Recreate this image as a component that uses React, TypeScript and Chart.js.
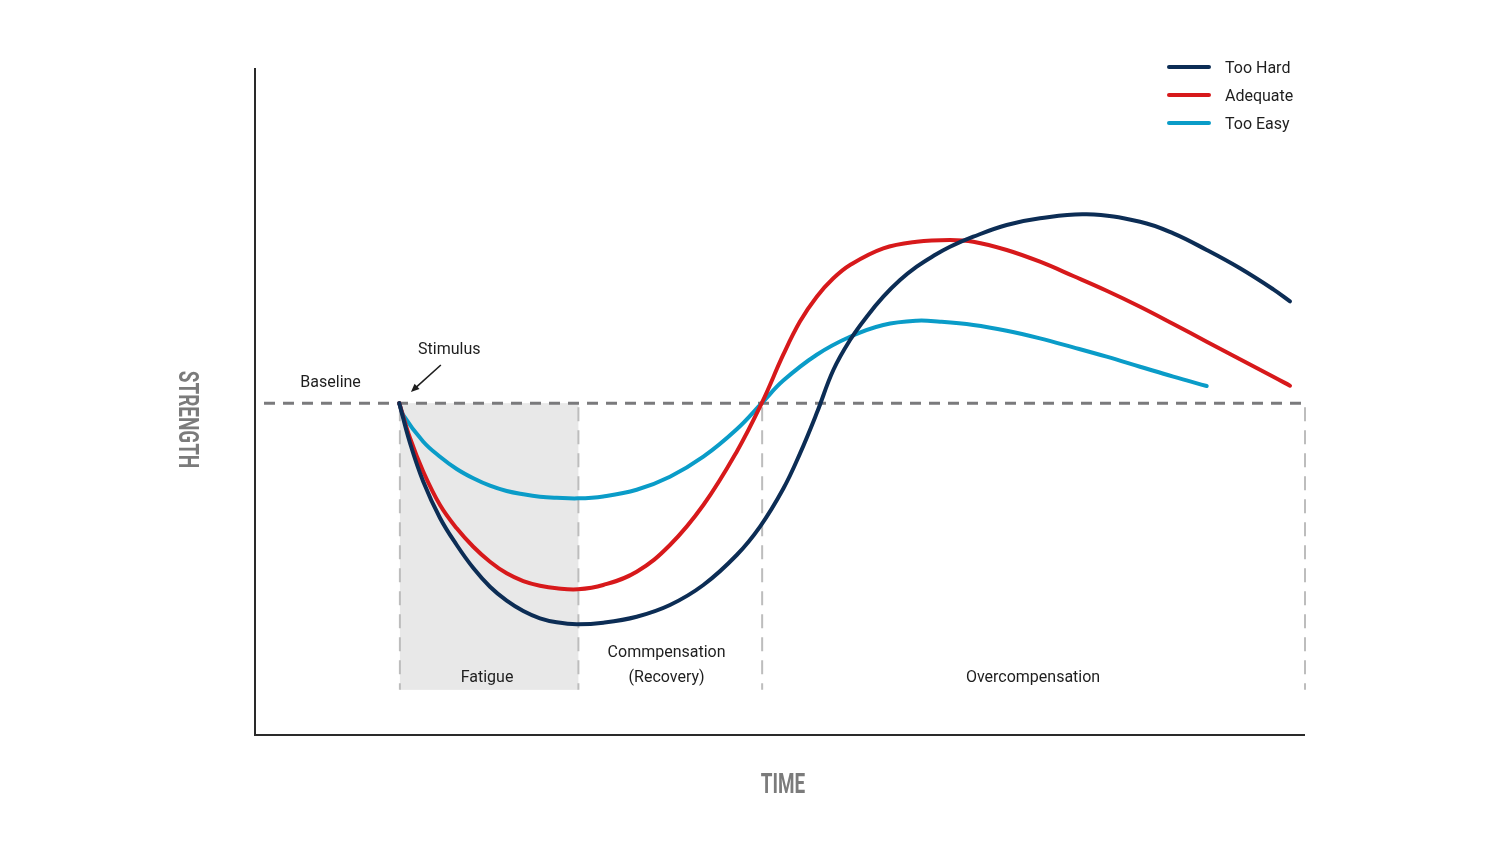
import { useEffect, useRef } from "react";
import { Chart, registerables } from "chart.js";

Chart.register(...registerables);

// ---- data (time 0..100, strength 0..100.5; baseline = 50) ----
const BASELINE = 50;
const PHASES = [13.8, 30.8, 48.3, 100]; // stimulus, end fatigue, end compensation, end
const ZONE_BOTTOM = 6.8;

const hardTime = [13.74, 14.76, 16.03, 17.62, 19.21, 20.79, 22.38, 23.97, 25.55, 27.14, 28.73, 30.64, 33.17, 36.35, 39.52, 42.7, 45.88, 48.1, 50.31, 51.9, 53.5, 55.08, 56.67, 58.26, 59.84, 61.43, 63.02, 64.6, 66.19, 68.41, 71.59, 74.76, 79.2, 84.29, 87.46, 90.64, 93.81, 96.98, 98.57];
const hardStrength = [50.0, 44.0, 38.16, 32.7, 28.63, 25.16, 22.34, 20.24, 18.68, 17.58, 16.98, 16.68, 16.92, 17.82, 19.59, 22.6, 27.12, 31.4, 37.1, 42.4, 48.5, 54.99, 59.51, 63.03, 66.04, 68.55, 70.56, 72.17, 73.57, 75.08, 76.84, 77.85, 78.45, 77.34, 75.59, 73.08, 70.32, 67.15, 65.35];

const adequateTime = [13.74, 14.76, 16.03, 17.62, 19.21, 20.79, 22.38, 23.97, 25.55, 27.14, 28.73, 30.76, 33.17, 36.35, 39.52, 42.7, 45.88, 48.26, 50.31, 51.9, 53.5, 55.08, 56.67, 59.84, 63.02, 66.19, 68.41, 71.59, 74.76, 77.93, 81.11, 84.29, 87.46, 90.64, 93.81, 96.98, 98.57];
const adequateStrength = [50.0, 44.75, 39.67, 34.65, 31.14, 28.37, 26.11, 24.36, 23.2, 22.5, 22.1, 21.95, 22.6, 24.6, 28.63, 34.65, 42.69, 50.0, 57.3, 62.3, 66.04, 68.81, 70.82, 73.33, 74.33, 74.58, 74.33, 73.08, 71.31, 69.16, 66.94, 64.53, 61.93, 59.26, 56.61, 53.99, 52.63];

const easyTime = [13.74, 14.12, 16.03, 17.62, 19.21, 20.79, 22.38, 23.97, 25.55, 27.14, 28.73, 30.76, 33.17, 36.35, 39.52, 42.7, 45.88, 48.26, 50.31, 53.5, 56.67, 59.84, 63.02, 65.24, 68.41, 71.59, 74.76, 77.93, 81.11, 84.29, 87.46, 90.64];
const easyStrength = [50.0, 48.21, 44.19, 41.93, 40.08, 38.68, 37.56, 36.76, 36.27, 35.91, 35.75, 35.66, 35.95, 36.95, 38.92, 41.94, 46.07, 50.0, 53.4, 57.3, 60.01, 61.78, 62.42, 62.27, 61.78, 60.92, 59.77, 58.41, 57.0, 55.49, 53.99, 52.58];

const seriesNames = ["Too Hard", "Adequate", "Too Easy"];
const seriesColors = ["#0c2d55", "#d7191b", "#0a9cc8"];

const zoneLabels = [
  { text: "Baseline", x: 7.2, y: 53.3 },
  { text: "Stimulus", x: 18.5, y: 58.3 },
  { text: "Fatigue", x: 22.1, y: 8.9 },
  { text: "Commpensation", x: 39.2, y: 12.65 },
  { text: "(Recovery)", x: 39.2, y: 8.9 },
  { text: "Overcompensation", x: 74.1, y: 8.9 },
];
const arrowFrom = { x: 17.7, y: 55.75 };
const arrowTo = { x: 14.85, y: 51.7 };

const xTitle = "TIME";
const yTitle = "STRENGTH";

const zip = (xs: number[], ys: number[]) => xs.map((x, i) => ({ x, y: ys[i] }));

const decorPlugin = {
  id: "decor",
  beforeDatasetsDraw(chart: any) {
    const { ctx, chartArea, scales } = chart;
    const xs = scales.x;
    const ys = scales.y;
    const yb = ys.getPixelForValue(BASELINE);
    const yz = ys.getPixelForValue(ZONE_BOTTOM);
    const px = PHASES.map((p) => xs.getPixelForValue(p));
    ctx.save();
    ctx.fillStyle = "#e8e8e8";
    ctx.fillRect(px[0], yb, px[1] - px[0], yz - yb);
    ctx.strokeStyle = "#bdbdbd";
    ctx.lineWidth = 2;
    ctx.setLineDash([14, 9]);
    px.forEach((p) => {
      ctx.beginPath();
      ctx.moveTo(p, yb + 4);
      ctx.lineTo(p, yz);
      ctx.stroke();
    });
    ctx.strokeStyle = "#7a7a7c";
    ctx.lineWidth = 3;
    ctx.setLineDash([11, 8]);
    ctx.beginPath();
    ctx.moveTo(chartArea.left + 9, yb);
    ctx.lineTo(chartArea.right, yb);
    ctx.stroke();
    ctx.setLineDash([]);
    ctx.strokeStyle = "#2a2a2a";
    ctx.lineWidth = 2;
    ctx.beginPath();
    ctx.moveTo(chartArea.left, chartArea.top);
    ctx.lineTo(chartArea.left, chartArea.bottom);
    ctx.lineTo(chartArea.right, chartArea.bottom);
    ctx.stroke();
    ctx.restore();
  },
  afterDatasetsDraw(chart: any) {
    const { ctx, chartArea, scales } = chart;
    const xs = scales.x;
    const ys = scales.y;
    const textDy = 2;
    ctx.save();
    ctx.fillStyle = "#1e1e1e";
    ctx.font = "16px Roboto";
    ctx.textAlign = "center";
    ctx.textBaseline = "middle";
    zoneLabels.forEach((l) => {
      ctx.fillText(l.text, xs.getPixelForValue(l.x), ys.getPixelForValue(l.y) + textDy);
    });
    const ax0 = xs.getPixelForValue(arrowFrom.x);
    const ay0 = ys.getPixelForValue(arrowFrom.y);
    const ax1 = xs.getPixelForValue(arrowTo.x);
    const ay1 = ys.getPixelForValue(arrowTo.y);
    const ang = Math.atan2(ay1 - ay0, ax1 - ax0);
    ctx.strokeStyle = "#1e1e1e";
    ctx.lineWidth = 1.6;
    ctx.beginPath();
    ctx.moveTo(ax0, ay0);
    ctx.lineTo(ax1 - 5 * Math.cos(ang), ay1 - 5 * Math.sin(ang));
    ctx.stroke();
    ctx.beginPath();
    ctx.moveTo(ax1, ay1);
    ctx.lineTo(ax1 - 9 * Math.cos(ang - 0.42), ay1 - 9 * Math.sin(ang - 0.42));
    ctx.lineTo(ax1 - 9 * Math.cos(ang + 0.42), ay1 - 9 * Math.sin(ang + 0.42));
    ctx.closePath();
    ctx.fill();
    ctx.textAlign = "left";
    seriesNames.forEach((name, i) => {
      const ly = chartArea.top - 1 + i * 28;
      ctx.strokeStyle = seriesColors[i];
      ctx.lineWidth = 4;
      ctx.lineCap = "round";
      ctx.beginPath();
      ctx.moveTo(chartArea.right - 136, ly);
      ctx.lineTo(chartArea.right - 96, ly);
      ctx.stroke();
      ctx.fillStyle = "#1e1e1e";
      ctx.fillText(name, chartArea.right - 80, ly + textDy);
    });
    ctx.fillStyle = "#7b7b7b";
    ctx.font = "bold 27px Roboto";
    ctx.textAlign = "center";
    ctx.textBaseline = "middle";
    ctx.save();
    ctx.translate((chartArea.left + chartArea.right) / 2 + 3, chartArea.bottom + 51);
    ctx.scale(0.7, 1);
    ctx.fillText(xTitle, 0, 0);
    ctx.restore();
    ctx.save();
    ctx.translate(chartArea.left - 69, (chartArea.top + chartArea.bottom) / 2 + 18);
    ctx.rotate(Math.PI / 2);
    ctx.scale(0.7, 1);
    ctx.fillText(yTitle, 0, 0);
    ctx.restore();
    ctx.restore();
  },
};

export default function App() {
  const ref = useRef<HTMLCanvasElement | null>(null);
  useEffect(() => {
    if (!ref.current) return;
    const series = [
      zip(hardTime, hardStrength),
      zip(adequateTime, adequateStrength),
      zip(easyTime, easyStrength),
    ];
    const chart = new Chart(ref.current, {
      type: "line",
      data: {
        datasets: series.map((d, i) => ({
          label: seriesNames[i],
          data: d,
          borderColor: seriesColors[i],
          borderWidth: 4,
          borderCapStyle: "round",
          borderJoinStyle: "round",
          pointRadius: 0,
          tension: 0.4,
          fill: false,
        })),
      },
      options: {
        responsive: false,
        animation: false,
        layout: { padding: { left: 255, right: 195, top: 68, bottom: 109 } },
        scales: {
          x: { type: "linear", min: 0, max: 100, display: false },
          y: { type: "linear", min: 0, max: 100.5, display: false },
        },
        plugins: { legend: { display: false }, tooltip: { enabled: false } },
      },
      plugins: [decorPlugin],
    } as any);
    return () => chart.destroy();
  }, []);
  return (
    <div style={{ position: "absolute", left: 0, top: 0, width: 1500, height: 844, background: "#fff" }}>
      <canvas ref={ref} width={1500} height={844} />
    </div>
  );
}
